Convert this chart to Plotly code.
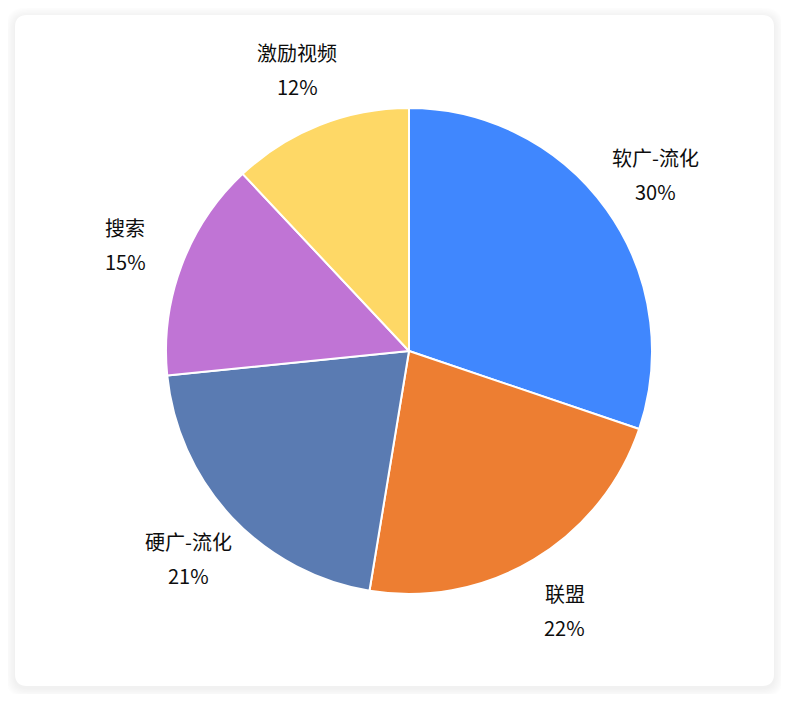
import math
import plotly.graph_objects as go

# ---- data ----
categories = ["软广-流化", "联盟", "硬广-流化", "搜索", "激励视频"]
values = [30.2, 22.4, 20.8, 14.6, 12.0]
colors = ["#4087FE", "#ED7E32", "#5A7BB2", "#C074D5", "#FED866"]

OFF = 8                         # browser body margin
W, H = 789 - 2 * OFF, 702 - 2 * OFF
CX, CY, R = 409 - OFF, 351 - OFF, 243   # pie centre / radius in pixels
LABEL_R = 303                   # label distance from centre (px)

fig = go.Figure(go.Pie(
    labels=categories,
    values=values,
    sort=False,
    direction="clockwise",
    rotation=0,
    marker=dict(colors=colors, line=dict(color="white", width=2)),
    textinfo="none",
    hoverinfo="label+percent",
    showlegend=False,
    domain=dict(x=[(CX - R) / W, (CX + R) / W],
                y=[1 - (CY + R) / H, 1 - (CY - R) / H]),
))

# ---- card with soft shadow ----
def rrect(x0, y0, x1, y1, r):
    def px(x):
        return (x - OFF) / W
    def py(y):
        return 1 - (y - OFF) / H
    return (f"M {px(x0 + r)},{py(y0)} L {px(x1 - r)},{py(y0)} "
            f"Q {px(x1)},{py(y0)} {px(x1)},{py(y0 + r)} "
            f"L {px(x1)},{py(y1 - r)} "
            f"Q {px(x1)},{py(y1)} {px(x1 - r)},{py(y1)} "
            f"L {px(x0 + r)},{py(y1)} "
            f"Q {px(x0)},{py(y1)} {px(x0)},{py(y1 - r)} "
            f"L {px(x0)},{py(y0 + r)} "
            f"Q {px(x0)},{py(y0)} {px(x0 + r)},{py(y0)} Z")

shapes = []
for i in range(7, 0, -1):
    e = i * 1.4
    shapes.append(dict(type="path", xref="paper", yref="paper", layer="below",
                       path=rrect(15 - e, 15 - e + 2, 774 + e, 686 + e + 2, 12 + e),
                       fillcolor="rgba(0,0,0,0.006)", line=dict(width=0)))
shapes.append(dict(type="path", xref="paper", yref="paper", layer="below",
                   path=rrect(15, 15, 774, 686, 12),
                   fillcolor="white", line=dict(width=0)))

# ---- labels computed from slice mid-angles ----
total = sum(values)
annotations = []
acc = 0.0
for name, v in zip(categories, values):
    mid = (acc + v / 2) / total * 2 * math.pi
    acc += v
    lx = CX + LABEL_R * math.sin(mid)
    ly = CY - LABEL_R * math.cos(mid)
    pct = f"{round(v / total * 100)}%"
    for txt, shift in ((name, 17), (pct, -17)):
        annotations.append(dict(
            x=lx / W, y=1 - ly / H, xref="paper", yref="paper",
            text=txt, showarrow=False, xanchor="center", yanchor="middle",
            yshift=shift,
            font=dict(family="Noto Sans CJK SC, Noto Sans, sans-serif",
                      size=20, color="#0d0d0d"),
        ))

fig.update_layout(
    width=W, height=H,
    margin=dict(l=0, r=0, t=0, b=0),
    paper_bgcolor="white",
    plot_bgcolor="white",
    shapes=shapes,
    annotations=annotations,
)

fig.write_html("out.html")
